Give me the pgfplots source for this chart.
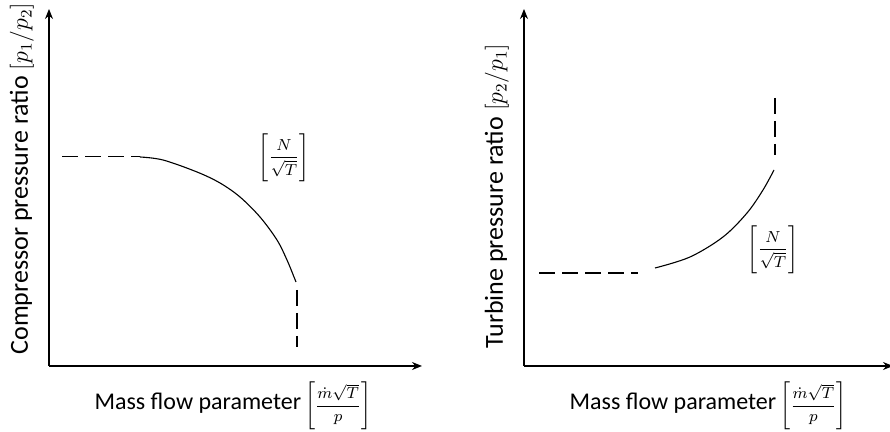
\documentclass[border=0pt]{standalone}
\usepackage{fontspec}
\setmainfont{Carlito}
\usepackage{amsmath}
\usepackage{pgfplots}
\pgfplotsset{compat=1.18}
\usetikzlibrary{arrows.meta}

% bracketed dimensionless groups
\newcommand{\flowgroup}{{\fontsize{8}{10}\selectfont$\displaystyle\Biggl[\frac{\dot{m}\sqrt{T}}{p}\Biggr]$}}
\newcommand{\speedgroup}{{\fontsize{8}{10}\selectfont$\displaystyle\Biggl[\frac{N}{\sqrt{T}}\Biggr]$}}

\pgfplotsset{
  mapstyle/.style={
    scale only axis,
    x=0.5pt, y=0.5pt,
    anchor=south west,
    axis lines=left,
    axis line style={line width=0.65pt, -{Stealth[length=5pt,width=4pt]}},
    xtick=\empty, ytick=\empty,
    enlargelimits=false,
    clip=false,
    ymin=66, ymax=423,
    xlabel style={anchor=center, font=\fontsize{12}{14}\selectfont},
    ylabel style={anchor=center, font=\fontsize{13}{15}\selectfont},
  },
  curve/.style={black, line width=0.55pt, smooth, tension=0.55},
  dashpart/.style={black, line width=0.8pt, dash pattern=on 8pt off 3.5pt},
}

\begin{document}
\begin{tikzpicture}
\path[use as bounding box] (0,0) rectangle (445pt,216pt);

% Compressor characteristic
\begin{axis}[mapstyle,
  at={(24.5pt,33pt)},
  xmin=49, xmax=422,
  xlabel={Mass flow parameter\,\flowgroup},
  ylabel={Compressor pressure ratio {\fontsize{11.5}{13}\selectfont$[p_1/p_2]$}},
  xlabel style={at={(axis description cs:0.493,-0.112)}},
  ylabel style={at={(axis description cs:-0.0724,0.525)}},
]
\addplot[dashpart] coordinates {(62,275.5) (140,275.5)};
\addplot[curve] coordinates {
  (140,275) (163,272) (197,260) (220,249) (240,235) (260,215)
  (277,192) (287,172) (294,155) (296,150)};
\addplot[dashpart] coordinates {(297,142) (297,85)};
\node at (axis cs:284,274.5) {\speedgroup};
\end{axis}

% Turbine characteristic
\begin{axis}[mapstyle,
  at={(262pt,33pt)},
  xmin=524, xmax=893,
  xlabel={Mass flow parameter\,\flowgroup},
  ylabel={Turbine pressure ratio {\fontsize{11.5}{13}\selectfont$[p_2/p_1]$}},
  xlabel style={at={(axis description cs:0.4986,-0.112)}},
  ylabel style={at={(axis description cs:-0.0734,0.476)}},
]
\addplot[dashpart] coordinates {(539,159) (638,159)};
\addplot[curve] coordinates {
  (655,164) (690,175) (723,195) (747,219) (763,242) (774,262)};
\addplot[dashpart] coordinates {(775,334) (775,277)};
\node at (axis cs:773,182.5) {\speedgroup};
\end{axis}
\end{tikzpicture}
\end{document}
